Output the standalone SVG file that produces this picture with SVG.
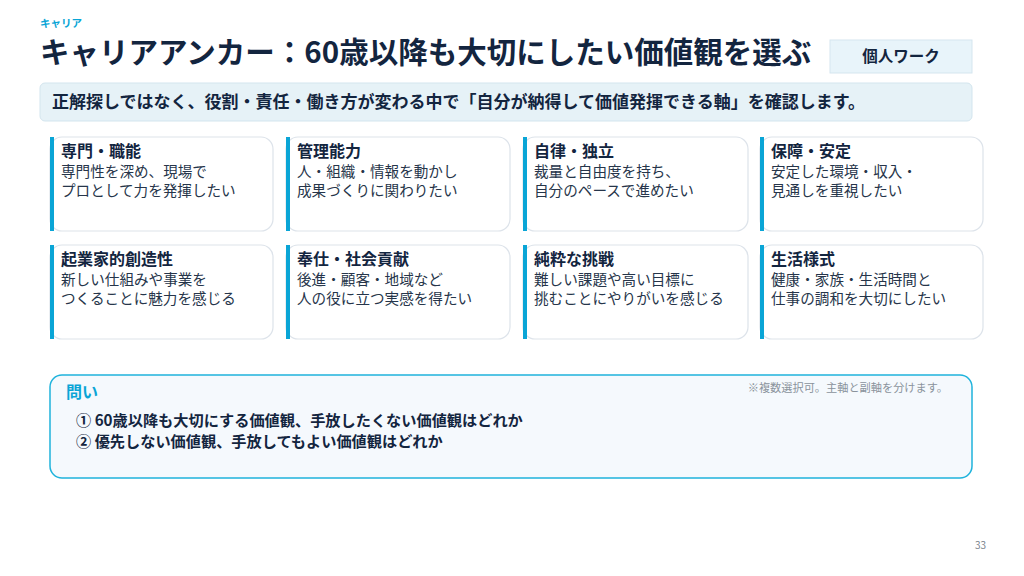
<svg xmlns="http://www.w3.org/2000/svg" width="1024" height="576" viewBox="0 0 1024 576">
<style>
text{font-family:"Noto Sans CJK JP","Noto Sans",sans-serif;}
.card{fill:#fff;stroke:#dde3ea;stroke-width:1.2}
.bar{fill:#0aa5d6}
.ct{font-size:16px;font-weight:700;fill:#13253f}
.cb{font-size:14.6px;fill:#26354a}
</style>
<rect width="1024" height="576" fill="#fff"/>
<text x="40" y="27" font-size="10.5" font-weight="700" fill="#0aa5d6">キャリア</text>
<text x="40" y="63" font-size="29.5" font-weight="700" fill="#13253f">キャリアアンカー：60歳以降も大切にしたい価値観を選ぶ</text>
<g id="tag"><rect x="830" y="40" width="142" height="33" fill="#e8f4fa" stroke="#d5e6ef"/><text x="901" y="62" font-size="15.5" font-weight="700" fill="#13253f" text-anchor="middle">個人ワーク</text></g>
<g id="lead"><rect x="40" y="83" width="932" height="38" rx="5" fill="#e6f2f7" stroke="#d3e5ee"/><text x="52" y="108" font-size="17" font-weight="700" fill="#13253f">正解探しではなく、役割・責任・働き方が変わる中で「自分が納得して価値発揮できる軸」を確認します。</text></g>
<g id="c1"><rect class="card" x="50" y="137" width="223" height="94" rx="12"/><rect class="bar" x="50" y="137" width="4" height="94"/><text class="ct" x="61" y="157">専門・職能</text><text class="cb" x="61" y="177">専門性を深め、現場で</text><text class="cb" x="61" y="196">プロとして力を発揮したい</text></g>
<g id="c2"><rect class="card" x="286" y="137" width="224" height="94" rx="12"/><rect class="bar" x="286" y="137" width="4" height="94"/><text class="ct" x="297" y="157">管理能力</text><text class="cb" x="297" y="177">人・組織・情報を動かし</text><text class="cb" x="297" y="196">成果づくりに関わりたい</text></g>
<g id="c3"><rect class="card" x="523" y="137" width="225" height="94" rx="12"/><rect class="bar" x="523" y="137" width="4" height="94"/><text class="ct" x="534" y="157">自律・独立</text><text class="cb" x="534" y="177">裁量と自由度を持ち、</text><text class="cb" x="534" y="196">自分のペースで進めたい</text></g>
<g id="c4"><rect class="card" x="760" y="137" width="223" height="94" rx="12"/><rect class="bar" x="760" y="137" width="4" height="94"/><text class="ct" x="771" y="157">保障・安定</text><text class="cb" x="771" y="177">安定した環境・収入・</text><text class="cb" x="771" y="196">見通しを重視したい</text></g>
<g id="c5"><rect class="card" x="50" y="245" width="223" height="94" rx="12"/><rect class="bar" x="50" y="245" width="4" height="94"/><text class="ct" x="61" y="265">起業家的創造性</text><text class="cb" x="61" y="285">新しい仕組みや事業を</text><text class="cb" x="61" y="304">つくることに魅力を感じる</text></g>
<g id="c6"><rect class="card" x="286" y="245" width="224" height="94" rx="12"/><rect class="bar" x="286" y="245" width="4" height="94"/><text class="ct" x="297" y="265">奉仕・社会貢献</text><text class="cb" x="297" y="285">後進・顧客・地域など</text><text class="cb" x="297" y="304">人の役に立つ実感を得たい</text></g>
<g id="c7"><rect class="card" x="523" y="245" width="225" height="94" rx="12"/><rect class="bar" x="523" y="245" width="4" height="94"/><text class="ct" x="534" y="265">純粋な挑戦</text><text class="cb" x="534" y="285">難しい課題や高い目標に</text><text class="cb" x="534" y="304">挑むことにやりがいを感じる</text></g>
<g id="c8"><rect class="card" x="760" y="245" width="223" height="94" rx="12"/><rect class="bar" x="760" y="245" width="4" height="94"/><text class="ct" x="771" y="265">生活様式</text><text class="cb" x="771" y="285">健康・家族・生活時間と</text><text class="cb" x="771" y="304">仕事の調和を大切にしたい</text></g>
<g id="q"><rect x="50" y="375" width="922" height="103" rx="12" fill="#f5f9fd" stroke="#1fb3dc" stroke-width="1.5"/>
<text x="66" y="398" font-size="16" font-weight="700" fill="#0aa5d6">問い</text>
<text x="948" y="392" font-size="11.2" fill="#8a939c" text-anchor="end">※複数選択可。主軸と副軸を分けます。</text>
<text x="76" y="426" font-size="15.2" font-weight="700" fill="#13253f">① 60歳以降も大切にする価値観、手放したくない価値観はどれか</text>
<text x="76" y="447" font-size="15.2" font-weight="700" fill="#13253f">② 優先しない価値観、手放してもよい価値観はどれか</text></g>
<g id="connectors"/>
<text x="986" y="549" font-size="10" fill="#7a838c" text-anchor="end">33</text>
</svg>
